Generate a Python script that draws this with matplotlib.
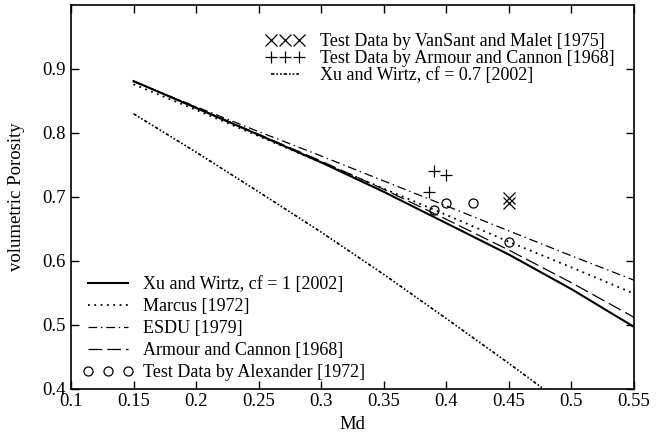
import numpy as np
import matplotlib
matplotlib.use("Agg")
import matplotlib.pyplot as plt

plt.rcParams['font.family'] = ['Liberation Serif', 'DejaVu Serif']

# model curves
md = [0.15, 0.2, 0.25, 0.3, 0.35, 0.4, 0.45, 0.5, 0.55]
xu_cf1 = [0.881, 0.839, 0.797, 0.754, 0.708, 0.659, 0.610, 0.556, 0.497]
marcus = [0.876, 0.836, 0.795, 0.754, 0.713, 0.672, 0.630, 0.590, 0.549]
esdu = [0.880, 0.841, 0.802, 0.764, 0.725, 0.686, 0.647, 0.608, 0.570]
armour = [0.881, 0.840, 0.798, 0.756, 0.712, 0.665, 0.617, 0.566, 0.512]
xu_cf07 = [0.830, 0.770, 0.708, 0.645, 0.579, 0.510, 0.440, 0.368, 0.295]

# test data
alex_x = [0.390, 0.400, 0.421, 0.450]
alex_y = [0.680, 0.690, 0.690, 0.630]
armour_x = [0.386, 0.390, 0.400]
armour_y = [0.707, 0.740, 0.735]
vansant_x = [0.450, 0.450]
vansant_y = [0.698, 0.690]

fig = plt.figure(figsize=(6.57, 4.34), dpi=100)
ax = fig.add_axes([0.108, 0.1037, 0.857, 0.885])

l1, = ax.plot(md, xu_cf1, color='black', lw=1.5, label='Xu and Wirtz, cf = 1 [2002]')
l2, = ax.plot(md, marcus, color='black', lw=1.3, ls=(0, (1, 2.5)), label='Marcus [1972]')
l3, = ax.plot(md, esdu, color='black', lw=0.9, ls=(0, (7, 3, 1.2, 3)), label='ESDU [1979]')
l4, = ax.plot(md, armour, color='black', lw=0.9, ls=(0, (11, 4)), label='Armour and Cannon [1968]')
l5, = ax.plot(alex_x, alex_y, ls='none', marker='o', ms=6.5, mfc='none', mec='black', mew=0.9,
              label='Test Data by Alexander [1972]')
l6, = ax.plot(vansant_x, vansant_y, ls='none', marker='x', ms=8.5, color='black', mew=0.9,
              label='Test Data by VanSant and Malet [1975]')
l7, = ax.plot(armour_x, armour_y, ls='none', marker='+', ms=9, color='black', mew=0.9,
              label='Test Data by Armour and Cannon [1968]')
l8, = ax.plot(md, xu_cf07, color='black', lw=1.2, ls=(0, (2, 1.2, 1, 1.2, 1, 1.2)),
              label='Xu and Wirtz, cf = 0.7 [2002]')

ax.set_xlim(0.1, 0.55)
ax.set_ylim(0.4, 1.0)
ax.set_xticks([0.1, 0.15, 0.2, 0.25, 0.3, 0.35, 0.4, 0.45, 0.5, 0.55])
ax.set_xticklabels(['0.1', '0.15', '0.2', '0.25', '0.3', '0.35', '0.4', '0.45', '0.5', '0.55'])
ax.set_yticks([0.4, 0.5, 0.6, 0.7, 0.8, 0.9])
ax.set_yticklabels(['0.4', '0.5', '0.6', '0.7', '0.8', '0.9'])
ax.tick_params(direction='in', top=True, right=True, length=6, width=1, labelsize=13.5)
ax.tick_params(axis='x', pad=3)
ax.tick_params(axis='y', pad=4)
for s in ax.spines.values():
    s.set_linewidth(1.2)

ax.set_xlabel('Md', fontsize=13.5, labelpad=4.5)
ax.set_ylabel('volumetric Porosity', fontsize=13.5, labelpad=12)

leg1 = ax.legend(handles=[l6, l7, l8], loc='upper left', bbox_to_anchor=(0.346, 0.927),
                 frameon=False, numpoints=3, handlelength=2.15, handletextpad=0.87,
                 fontsize=13, labelspacing=0.0, borderaxespad=0, borderpad=0)
ax.add_artist(leg1)
ax.legend(handles=[l1, l2, l3, l4, l5], loc='lower left', bbox_to_anchor=(0.0213, 0.021),
          frameon=False, numpoints=3, handlelength=2.8, handletextpad=0.55,
          fontsize=13, labelspacing=0.27, borderaxespad=0, borderpad=0)

fig.savefig('out.png', dpi=100)
